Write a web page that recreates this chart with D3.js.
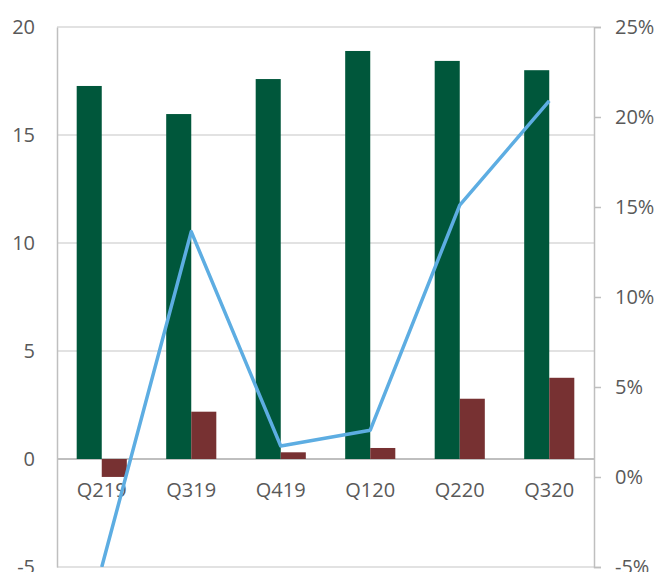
<!DOCTYPE html>
<html><head><meta charset="utf-8">
<script src="https://cdn.jsdelivr.net/npm/d3@7/dist/d3.min.js"></script>
<style>body{margin:0;background:#fff}svg{display:block}</style>
</head><body>
<svg id="c" width="657" height="572"></svg>
<script>
const categories = ["Q219","Q319","Q419","Q120","Q220","Q320"];
const greenValues = [17.27, 15.97, 17.59, 18.89, 18.43, 18.0];
const redValues = [-0.83, 2.19, 0.31, 0.51, 2.79, 3.76];
const lineValues = [-0.050, 0.1363, 0.0172, 0.026, 0.151, 0.209];
const leftTicks = [-5, 0, 5, 10, 15, 20];
const rightTicks = [-0.05, 0, 0.05, 0.10, 0.15, 0.20, 0.25];

const svg = d3.select("#c");
const L = 57, R = 594, T = 27, B = 567;
const font = "'Open Sans', sans-serif";
const txt = "#595959";
const hy = s => s.replace("\u2212", "-");

const x = d3.scaleBand().domain(categories).range([L, R]).paddingInner(0.44).paddingOuter(0.22);
const xs = d3.scaleBand().domain(["g","r"]).range([0, x.bandwidth()]);
const yL = d3.scaleLinear().domain([-5, 20]).range([B, T]);
const yR = d3.scaleLinear().domain([-0.05, 0.25]).range([B, T]);

// gridlines
svg.append("g").selectAll("line").data(leftTicks).join("line")
  .attr("x1", L).attr("x2", R).attr("y1", d => yL(d)).attr("y2", d => yL(d))
  .attr("stroke", d => d === 0 ? "#bfbfbf" : "#d9d9d9").attr("stroke-width", d => d===0?2:1.5);

// left axis
const fL = d3.format("d");
const axL = svg.append("g").attr("transform", `translate(${L},0)`)
  .call(d3.axisLeft(yL).tickValues(leftTicks).tickSize(0).tickPadding(22).tickFormat(d => hy(fL(d))));
axL.select(".domain").attr("stroke", "#bfbfbf").attr("stroke-width", 1.5);
axL.selectAll("text").attr("font-family", font).attr("font-size", 20).attr("fill", txt);

// right axis
const fR = d3.format(".0%");
const axR = svg.append("g").attr("transform", `translate(${R},0)`)
  .call(d3.axisRight(yR).tickValues(rightTicks).tickSize(7).tickPadding(14).tickFormat(d => hy(fR(d))));
axR.select(".domain").attr("stroke", "#bfbfbf").attr("stroke-width", 1.5);
axR.selectAll(".tick line").attr("stroke", "#bfbfbf").attr("stroke-width", 1.5);
axR.selectAll("text").attr("font-family", font).attr("font-size", 20).attr("fill", txt);

// bars
const g = svg.append("g");
g.selectAll("rect.g").data(categories).join("rect").attr("class","g")
  .attr("x", (d) => x(d) + xs("g")).attr("width", xs.bandwidth())
  .attr("y", (d,i) => yL(Math.max(0, greenValues[i])))
  .attr("height", (d,i) => Math.abs(yL(greenValues[i]) - yL(0)))
  .attr("fill", "#00573b");
g.selectAll("rect.r").data(categories).join("rect").attr("class","r")
  .attr("x", (d) => x(d) + xs("r")).attr("width", xs.bandwidth())
  .attr("y", (d,i) => yL(Math.max(0, redValues[i])))
  .attr("height", (d,i) => Math.abs(yL(redValues[i]) - yL(0)))
  .attr("fill", "#773132");

// category labels
svg.append("g").selectAll("text").data(categories).join("text")
  .attr("x", d => x(d) + x.bandwidth()/2).attr("y", 497)
  .attr("text-anchor", "middle").attr("font-family", font).attr("font-size", 20).attr("fill", txt)
  .text(d => d);

// line
svg.append("clipPath").attr("id","clip").append("rect").attr("x", L).attr("y", T).attr("width", R-L).attr("height", B-T);
const line = d3.line().x((d,i) => x(categories[i]) + x.bandwidth()/2).y(d => yR(d));
svg.append("path").datum(lineValues).attr("d", line).attr("clip-path","url(#clip)")
  .attr("fill","none").attr("stroke","#5dade2").attr("stroke-width",3.5).attr("stroke-linejoin","round");
</script>
</body></html>
